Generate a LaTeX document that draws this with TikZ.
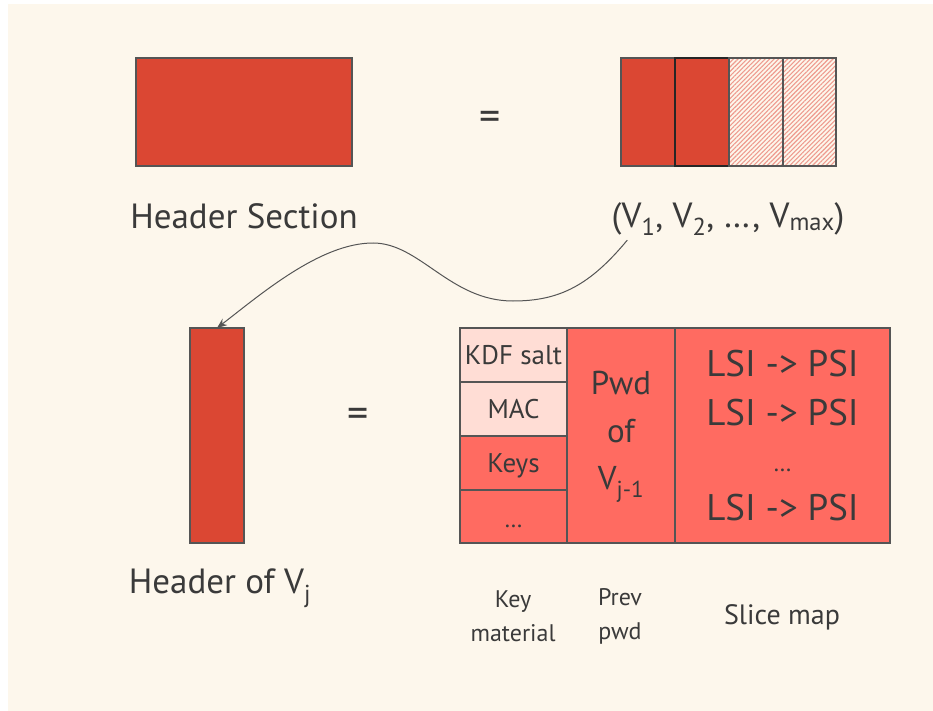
\documentclass[tikz,border=0pt]{standalone}
\usepackage{fontspec}
\setmainfont{PT Sans}
\usetikzlibrary{patterns.meta,calc,arrows.meta}
\definecolor{cream}{HTML}{FDF7EC}
\definecolor{hred}{HTML}{DB4733}
\definecolor{salmon}{HTML}{FF6B61}
\definecolor{lpink}{HTML}{FFDDD5}
\definecolor{hatchc}{HTML}{EE9A8E}
\definecolor{ink}{HTML}{3A3A3A}
\definecolor{edge}{HTML}{555555}
\tikzset{
  box/.style={draw=edge,line width=1.1pt,inner sep=0pt,outer sep=0pt},
  redbox/.style={box,fill=hred},
  salbox/.style={box,fill=salmon},
  pinkbox/.style={box,fill=lpink},
  hatchbox/.style={box,pattern={Lines[angle=45,distance=3.2pt,line width=1.1pt]},pattern color=hatchc},
  lbl/.style={text=ink,inner sep=0pt,align=center},
  huge/.style={lbl,font=\fontsize{35}{40}\selectfont},
  big/.style={lbl,font=\fontsize{33}{38}\selectfont},
  mid/.style={lbl,font=\fontsize{27}{30}\selectfont},
  sml/.style={lbl,font=\fontsize{24}{28}\selectfont},
  eqs/.style={lbl,font=\fontsize{42}{46}\selectfont},
}
\begin{document}
\begin{tikzpicture}[x=1pt,y=-1pt]
\fill[white] (0,0) rectangle (933,711);
\fill[cream] (8,4) rectangle (933,711);
\useasboundingbox (0,0) rectangle (933,711);
% top row
\node[redbox,minimum width=216pt,minimum height=108pt] (hs) at (244,112) {};
\node[huge] (hslbl) at (244,216) {Header Section};
\node[eqs] (eq1) at (490,121) {=};
\node[redbox,minimum width=54pt,minimum height=108pt] (v1) at (648,112) {};
\node[redbox,draw=black!85,minimum width=54pt,minimum height=108pt] (v2) at (702,112) {};
\node[hatchbox,minimum width=54pt,minimum height=108pt] (v3) at (756,112) {};
\node[hatchbox,minimum width=53pt,minimum height=108pt] (v4) at (809.5,112) {};
\node[huge] (vl) at (728,219) {(V\textsubscript{1}, V\textsubscript{2}, \dots, V\textsubscript{max})};
% bottom row
\node[redbox,minimum width=54pt,minimum height=215pt] (hv) at (217,435.5) {};
\node[eqs] (eq2) at (358,418) {=};
\node[huge] (hvlbl) at (220,588) {Header of V\textsubscript{j}};
% key material
\node[pinkbox,minimum width=107pt,minimum height=54pt] (kdf) at (513.5,355) {};
\node[pinkbox,minimum width=107pt,minimum height=54pt] (mac) at (513.5,409) {};
\node[salbox,minimum width=107pt,minimum height=54pt] (keys) at (513.5,463) {};
\node[salbox,minimum width=107pt,minimum height=53pt] (kdots) at (513.5,516.5) {};
\node[lbl,font=\fontsize{27}{30}\selectfont] at (kdf) {KDF salt};
\node[mid] at (mac) {MAC};
\node[mid] at ($(keys)+(0,3)$) {Keys};
\node[sml] at ($(kdots)+(0,10)$) {\dots};
% prev pwd
\node[salbox,minimum width=108pt,minimum height=215pt] (pw) at (621,435.5) {};
\node[big] at (621,383) {Pwd};
\node[big] at (621,431) {of};
\node[big] at (621,484) {V\textsubscript{j-1}};
% slice map
\node[salbox,minimum width=215pt,minimum height=215pt] (sm) at (782.5,435.5) {};
\node[lbl,font=\fontsize{37}{40}\selectfont] at (782.5,364) {LSI -> PSI};
\node[lbl,font=\fontsize{37}{40}\selectfont] at (782.5,413) {LSI -> PSI};
\node[sml] at (782.5,470) {\dots};
\node[lbl,font=\fontsize{37}{40}\selectfont] at (782.5,508) {LSI -> PSI};
% column labels
\node[lbl,font=\fontsize{24}{28}\selectfont] (kml) at (513,616) {Key\\[6pt]material};
\node[lbl,font=\fontsize{24}{28}\selectfont] (ppl) at (620,616) {Prev\\[6pt]pwd};
\node[lbl,font=\fontsize{28}{30}\selectfont] (smlb) at (782,617) {Slice map};
% arrow
\draw[edge,line width=1pt,-{Stealth[length=10pt,width=8pt]}]
  ($(vl.south west)+(16,4)$) .. controls (590,285) and (560,301) .. (513,301)
  .. controls (450,301) and (420,243) .. (373,243)
  .. controls (320,243) and (260,295) .. (hv.north);
\end{tikzpicture}
\end{document}
